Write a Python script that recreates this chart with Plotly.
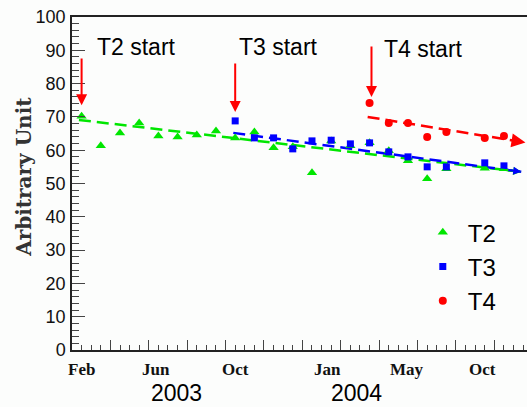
import plotly.graph_objects as go

# x = months counted from Jan 2003 (1.5 = mid-Feb 2003, 13.5 = mid-Feb 2004)
t2_x = [1.5, 2.5, 3.5, 4.5, 5.5, 6.5, 7.5, 8.5, 9.5, 10.5, 11.5, 12.5, 13.5, 14.5,
        15.5, 16.5, 17.5, 18.5, 19.5, 20.5, 22.5, 23.5]
t2_y = [70.2, 61.3, 65.2, 68.2, 64.3, 64.0, 64.6, 65.8, 63.7, 65.5, 60.7, 61.0, 53.2, 62.8,
        61.3, 62.2, 59.8, 56.8, 51.4, 54.4, 54.6, 54.4]
t3_x = [9.5, 10.5, 11.5, 12.5, 13.5, 14.5, 15.5, 16.5, 17.5, 18.5, 19.5, 20.5, 22.5, 23.5]
t3_y = [68.8, 63.7, 63.7, 60.4, 62.8, 63.0, 61.9, 62.2, 59.5, 58.0, 55.0, 55.0, 56.2, 55.3]
t4_x = [16.5, 17.5, 18.5, 19.5, 20.5, 22.5, 23.5]
t4_y = [74.2, 68.2, 68.2, 64.0, 65.5, 63.7, 64.3]

# dashed trend lines (start, end)
trend_t2_x = [1.36, 24.4]
trend_t2_y = [69.1, 53.5]
trend_t3_x = [9.4, 24.4]
trend_t3_y = [65.2, 53.5]
trend_t4_x = [16.4, 24.62]
trend_t4_y = [70.0, 62.3]

# start markers: (x, arrow tip value, arrow tail value, label)
start_x = [1.5, 9.5, 16.6]
start_tip = [73.5, 71.5, 76.0]
start_tail = [88.0, 86.5, 91.6]
start_labels = ["T2 start", "T3 start", "T4 start"]
start_label_x = [2.2, 9.6, 17.15]
start_label_y = [91.0, 91.0, 90.5]

month_labels = ["Feb", "Jun", "Oct", "Jan", "May", "Oct"]
month_pos = [1.47, 5.4, 9.5, 14.33, 18.45, 22.4]
year_labels = ["2003", "2004"]
year_pos = [6.42, 15.8]

GREEN = "#00e600"
BLUE = "#0000ff"
RED = "#ff0000"

fig = go.Figure()
dash = "12px,6px"
fig.add_trace(go.Scatter(x=trend_t2_x, y=trend_t2_y, mode="lines",
                         line=dict(color=GREEN, width=2.5, dash=dash), showlegend=False))
fig.add_trace(go.Scatter(x=trend_t3_x, y=trend_t3_y, mode="lines",
                         line=dict(color=BLUE, width=2.5, dash=dash), showlegend=False))
fig.add_trace(go.Scatter(x=trend_t4_x, y=trend_t4_y, mode="lines",
                         line=dict(color=RED, width=2.5, dash=dash), showlegend=False))

fig.add_trace(go.Scatter(x=t2_x, y=t2_y, mode="markers", name="T2",
                         marker=dict(symbol="triangle-up", size=9, color=GREEN)))
fig.add_trace(go.Scatter(x=t3_x, y=t3_y, mode="markers", name="T3",
                         marker=dict(symbol="square", size=7, color=BLUE)))
fig.add_trace(go.Scatter(x=t4_x, y=t4_y, mode="markers", name="T4",
                         marker=dict(symbol="circle", size=8, color=RED)))

ann = []
# arrowheads at trend-line ends
for tx, ty, col, sz in [(trend_t2_x, trend_t2_y, GREEN, 0.8), (trend_t3_x, trend_t3_y, BLUE, 0.8),
                        (trend_t4_x, trend_t4_y, RED, 1.4)]:
    f = 0.95
    bx = tx[0] + (tx[1] - tx[0]) * f
    by = ty[0] + (ty[1] - ty[0]) * f
    ann.append(dict(x=tx[1], y=ty[1], ax=bx, ay=by, xref="x", yref="y", axref="x", ayref="y",
                    text="", showarrow=True, arrowhead=2, arrowsize=sz, arrowwidth=2,
                    arrowcolor=col, standoff=0))
# start arrows and labels
for sx, tip, tail in zip(start_x, start_tip, start_tail):
    ann.append(dict(x=sx, y=tip, ax=sx, ay=tail, xref="x", yref="y", axref="x", ayref="y",
                    text="", showarrow=True, arrowhead=2, arrowsize=1.1, arrowwidth=2,
                    arrowcolor=RED, standoff=0))
for lx, ly, lt in zip(start_label_x, start_label_y, start_labels):
    ann.append(dict(x=lx, y=ly, xref="x", yref="y", text=lt, showarrow=False,
                    xanchor="left", yanchor="middle",
                    font=dict(family="Liberation Sans, Arial", size=23, color="#000")))
# month labels
for mp, ml in zip(month_pos, month_labels):
    ann.append(dict(x=mp, y=-0.06, xref="x", yref="paper", text="<b>" + ml + "</b>", showarrow=False,
                    xanchor="center", yanchor="middle",
                    font=dict(family="Liberation Serif, Times New Roman", size=17, color="#111")))
for yp, yl in zip(year_pos, year_labels):
    ann.append(dict(x=yp, y=-0.129, xref="x", yref="paper", text=yl, showarrow=False,
                    xanchor="center", yanchor="middle",
                    font=dict(family="Liberation Sans, Arial", size=23, color="#000")))
# y axis title
ann.append(dict(x=-0.1055, y=0.52, xref="paper", yref="paper", text="<b>Arbitrary Unit</b>",
                textangle=-90, showarrow=False, xanchor="center", yanchor="middle",
                font=dict(family="DejaVu Serif", size=20, color="#333")))

fig.update_layout(
    width=527, height=407,
    margin=dict(l=72, r=0, t=17, b=57),
    paper_bgcolor="#fcfdfc", plot_bgcolor="#fcfdfc",
    annotations=ann,
    legend=dict(x=0.76, y=0.42, xanchor="left", yanchor="top", bgcolor="rgba(0,0,0,0)",
                itemwidth=40, font=dict(family="Liberation Sans, Arial", size=24, color="#000"),
                tracegroupgap=0),
    xaxis=dict(range=[1, 24.7], showgrid=False, zeroline=False, showline=True, mirror=True,
               linecolor="#222", linewidth=1.5, ticks="inside", ticklen=10, tickcolor="#444",
               tick0=1, dtick=2, showticklabels=False,
               minor=dict(ticks="inside", ticklen=5, dtick=0.5, tick0=1, tickcolor="#444", showgrid=False)),
    yaxis=dict(range=[0, 100], showgrid=False, zeroline=False, showline=True, mirror=False,
               linecolor="#222", linewidth=1.5, ticks="inside", ticklen=13, tickcolor="#444",
               dtick=10, tick0=0, ticklabelstandoff=1,
               tickfont=dict(family="Liberation Sans, Arial", size=18, color="#111"),
               minor=dict(ticks="inside", ticklen=7, dtick=2, tickcolor="#444", showgrid=False)),
)

fig.write_html("out.html")
